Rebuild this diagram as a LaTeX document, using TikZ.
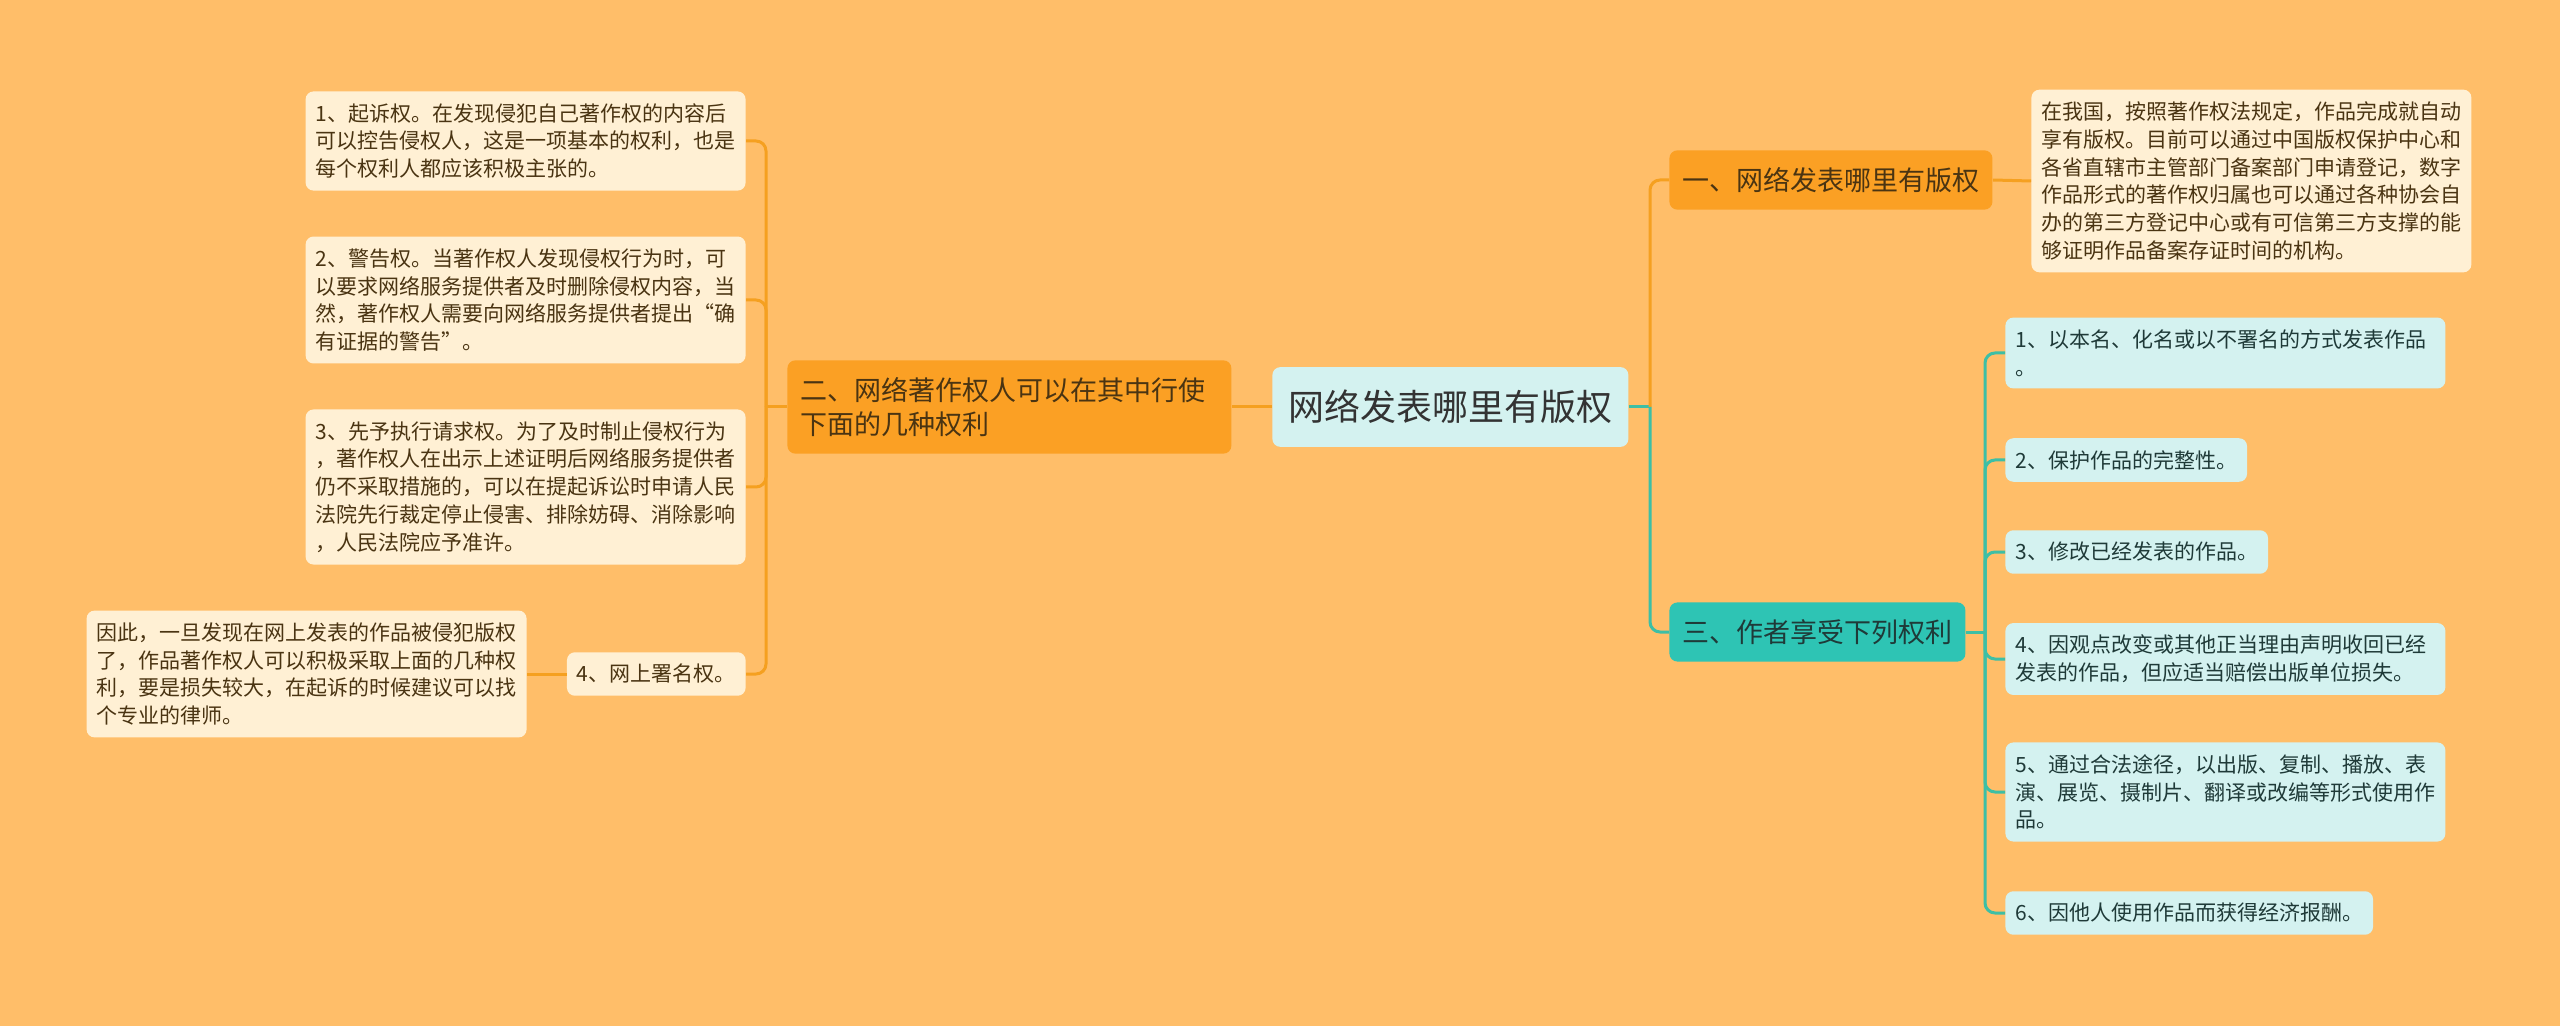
\documentclass[tikz,border=0pt]{standalone}
\usepackage{fontspec}
\setmainfont{Noto Sans CJK SC}
\usepackage{tikz}
\definecolor{bgorange}{HTML}{FFBE69}
\definecolor{darkorange}{HTML}{FBA024}
\definecolor{cream}{HTML}{FFF0D4}
\definecolor{palecyan}{HTML}{D4F2F0}
\definecolor{tealbox}{HTML}{2EC4B4}
\definecolor{orangeline}{HTML}{F5A020}
\definecolor{tealline}{HTML}{3DBFA5}
\definecolor{browntext}{HTML}{4A3412}
\definecolor{tealtext}{HTML}{1F3A38}
\begin{document}
\begin{tikzpicture}[x=0.5pt,y=-0.5pt,
    rootbox/.style={fill=palecyan, rounded corners=4pt, inner xsep=8pt, inner ysep=11.5pt,
        text=black!80, font=\fontsize{18}{22}\selectfont},
    branchbox/.style={fill=darkorange, rounded corners=4pt, inner xsep=6.5pt, inner ysep=8.5pt,
        text=browntext, align=left, font=\fontsize{13.5}{17}\selectfont},
    leafbox/.style={fill=cream, rounded corners=4pt, inner xsep=5pt, inner ysep=6pt,
        text=browntext, align=left, font=\fontsize{10.5}{13.9}\selectfont},
    cyanleaf/.style={leafbox, fill=palecyan, text=tealtext},
    wide/.style={text width=210pt},
    olink/.style={draw=orangeline, line width=1.5pt, rounded corners=5pt},
    tlink/.style={draw=tealline, line width=1.5pt, rounded corners=5pt}]
    \useasboundingbox (0,0) rectangle (2560,1026);
    \fill[bgorange] (0,0) rectangle (2560,1026);
    % centre
    \node[rootbox, anchor=west] (root) at (1272,407) {网络发表哪里有版权};
    % left branch
    \node[branchbox, anchor=west, text width=209pt] (left) at (787,407) {二、网络著作权人可以在其中行使\\下面的几种权利};
    \node[leafbox, wide, anchor=east] (sue) at (746,141) {1、起诉权。在发现侵犯自己著作权的内容后\\可以控告侵权人，这是一项基本的权利，也是\\每个权利人都应该积极主张的。};
    \node[leafbox, wide, anchor=east] (warn) at (746,300) {2、警告权。当著作权人发现侵权行为时，可\\以要求网络服务提供者及时删除侵权内容，当\\然，著作权人需要向网络服务提供者提出“确\\有证据的警告”。};
    \node[leafbox, wide, anchor=east] (advance) at (746,487) {3、先予执行请求权。为了及时制止侵权行为\\，著作权人在出示上述证明后网络服务提供者\\仍不采取措施的，可以在提起诉讼时申请人民\\法院先行裁定停止侵害、排除妨碍、消除影响\\，人民法院应予准许。};
    \node[leafbox, anchor=east] (sign) at (746,674) {4、网上署名权。};
    \node[leafbox, wide, anchor=east] (lawyer) at (527,674) {因此，一旦发现在网上发表的作品被侵犯版权\\了，作品著作权人可以积极采取上面的几种权\\利，要是损失较大，在起诉的时候建议可以找\\个专业的律师。};
    % right branches
    \node[branchbox, anchor=west] (where) at (1669,180) {一、网络发表哪里有版权};
    \node[leafbox, wide, anchor=west] (china) at (2031,181) {在我国，按照著作权法规定，作品完成就自动\\享有版权。目前可以通过中国版权保护中心和\\各省直辖市主管部门备案部门申请登记，数字\\作品形式的著作权归属也可以通过各种协会自\\办的第三方登记中心或有可信第三方支撑的能\\够证明作品备案存证时间的机构。};
    \node[branchbox, fill=tealbox, text=tealtext, anchor=west] (author) at (1669,632) {三、作者享受下列权利};
    \node[cyanleaf, wide, anchor=west] (rA) at (2005,353) {1、以本名、化名或以不署名的方式发表作品\\。};
    \node[cyanleaf, anchor=west] (rB) at (2005,460) {2、保护作品的完整性。};
    \node[cyanleaf, anchor=west] (rC) at (2005,552) {3、修改已经发表的作品。};
    \node[cyanleaf, wide, anchor=west] (rD) at (2005,659) {4、因观点改变或其他正当理由声明收回已经\\发表的作品，但应适当赔偿出版单位损失。};
    \node[cyanleaf, wide, anchor=west] (rE) at (2005,792) {5、通过合法途径，以出版、复制、播放、表\\演、展览、摄制片、翻译或改编等形式使用作\\品。};
    \node[cyanleaf, anchor=west] (rF) at (2005,913) {6、因他人使用作品而获得经济报酬。};
    % junctions
    \coordinate (jL) at (766,407);
    \coordinate (jR) at (1650,407);
    \coordinate (jT) at (1985,632);
    % links
    \draw[olink] (root.west) -- (left.east);
    \draw[olink] (left.west) -- (jL);
    \foreach \leaf in {sue,warn,advance,sign}
        \draw[olink] (jL) |- (\leaf.east);
    \draw[olink] (sign.west) -- (lawyer.east);
    \draw[tlink] (root.east) -- (jR);
    \draw[olink] (jR) |- (where.west);
    \draw[tlink] (jR) |- (author.west);
    \draw[olink] (where.east) -- (china.west);
    \draw[tlink] (author.east) -- (jT);
    \foreach \leaf in {rA,rB,rC,rD,rE,rF}
        \draw[tlink] (jT) |- (\leaf.west);
\end{tikzpicture}
\end{document}
